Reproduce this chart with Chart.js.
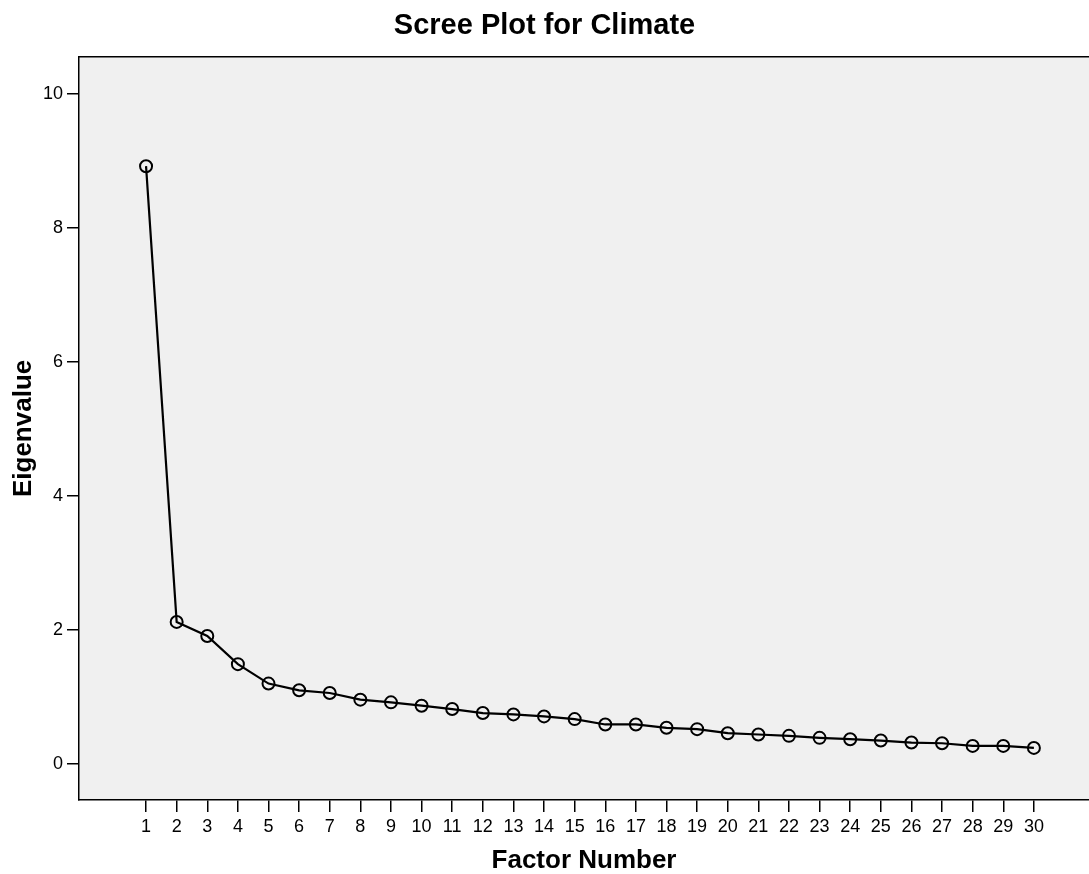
<!DOCTYPE html>
<html>
<head>
<meta charset="utf-8">
<title>Scree Plot for Climate</title>
<script src="https://cdn.jsdelivr.net/npm/chart.js@4"></script>
<style>
    body { margin: 0; background: #ffffff; }
    #wrap { width: 1089px; height: 874px; }
</style>
</head>
<body>
<div id="wrap"><canvas id="scree-chart" width="1089" height="874"></canvas></div>
<script>
// Scree plot data
const factorNumbers = [1, 2, 3, 4, 5, 6, 7, 8, 9, 10, 11, 12, 13, 14, 15,
    16, 17, 18, 19, 20, 21, 22, 23, 24, 25, 26, 27, 28, 29, 30];
const eigenvalues = [8.92, 2.12, 1.91, 1.49, 1.20, 1.10, 1.06, 0.96, 0.92, 0.87,
    0.82, 0.76, 0.74, 0.71, 0.67, 0.59, 0.59, 0.54, 0.52, 0.46,
    0.44, 0.42, 0.39, 0.37, 0.35, 0.32, 0.31, 0.27, 0.27, 0.24];
const yTickValues = [0, 2, 4, 6, 8, 10];

const FONT = 'Arial, "Liberation Sans", Helvetica, sans-serif';

// grey plot panel with a frame on top/left/bottom
const panelPlugin = {
    id: 'panel',
    beforeDraw(chart) {
        const { ctx, chartArea: a } = chart;
        ctx.save();
        ctx.fillStyle = '#f0f0f0';
        ctx.fillRect(a.left, a.top, a.right - a.left, a.bottom - a.top);
        ctx.restore();
    },
    afterDraw(chart) {
        const { ctx, chartArea: a } = chart;
        ctx.save();
        ctx.strokeStyle = '#000000';
        ctx.lineWidth = 1.5;
        ctx.beginPath();
        ctx.moveTo(a.left, a.top);
        ctx.lineTo(a.right, a.top);
        ctx.stroke();
        ctx.restore();
    }
};

function initScreeChart() {
    const ctx = document.getElementById('scree-chart').getContext('2d');

    new Chart(ctx, {
        type: 'line',
        data: {
            datasets: [{
                label: 'Eigenvalue',
                data: factorNumbers.map((f, i) => ({ x: f, y: eigenvalues[i] })),
                borderColor: '#000000',
                borderWidth: 2.2,
                fill: false,
                tension: 0,
                pointRadius: 6,
                pointBorderWidth: 2,
                pointBorderColor: '#000000',
                pointBackgroundColor: 'rgba(0, 0, 0, 0)'
            }]
        },
        options: {
            responsive: false,
            animation: false,
            layout: { padding: 0, autoPadding: false },
            plugins: {
                legend: { display: false },
                tooltip: { enabled: false },
                title: {
                    display: true,
                    text: 'Scree Plot for Climate',
                    color: '#000000',
                    font: { family: FONT, size: 29, weight: 'bold', lineHeight: 1.2 },
                    padding: { top: 9, bottom: 13 }
                }
            },
            scales: {
                x: {
                    type: 'linear',
                    min: -1.19,
                    max: 31.8,
                    afterBuildTicks: (scale) => {
                        scale.ticks = factorNumbers.map(v => ({ value: v }));
                    },
                    afterFit: (scale) => { scale.height = 74; },
                    ticks: {
                        color: '#000000',
                        font: { family: FONT, size: 18 },
                        padding: 4,
                        maxRotation: 0,
                        autoSkip: false
                    },
                    grid: {
                        drawOnChartArea: false,
                        drawTicks: true,
                        tickLength: 12,
                        color: '#000000',
                        lineWidth: 1.5
                    },
                    border: { display: true, color: '#000000', width: 1.5 },
                    title: {
                        display: true,
                        text: 'Factor Number',
                        color: '#000000',
                        font: { family: FONT, size: 26, weight: 'bold', lineHeight: 1 },
                        padding: { top: 0, bottom: 0 }
                    }
                },
                y: {
                    type: 'linear',
                    min: -0.537,
                    max: 10.552,
                    afterBuildTicks: (scale) => {
                        scale.ticks = yTickValues.map(v => ({ value: v }));
                    },
                    afterFit: (scale) => { scale.width = 79; },
                    ticks: {
                        color: '#000000',
                        font: { family: FONT, size: 18 },
                        padding: 4
                    },
                    grid: {
                        drawOnChartArea: false,
                        drawTicks: true,
                        tickLength: 12,
                        color: '#000000',
                        lineWidth: 1.5
                    },
                    border: { display: true, color: '#000000', width: 1.5 },
                    title: {
                        display: true,
                        text: 'Eigenvalue',
                        color: '#000000',
                        font: { family: FONT, size: 26, weight: 'bold', lineHeight: 1.2 },
                        padding: { top: 8, bottom: 0 }
                    }
                }
            }
        },
        plugins: [panelPlugin]
    });
}

initScreeChart();
</script>
</body>
</html>
